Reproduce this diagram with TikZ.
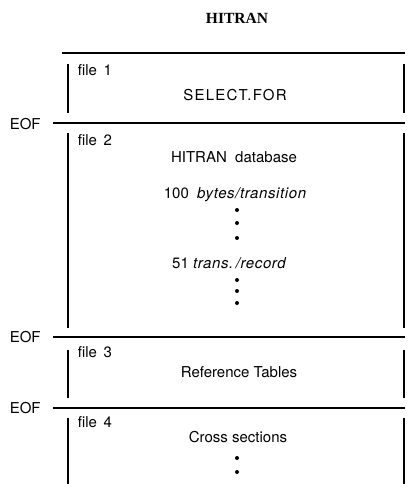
\documentclass[tikz,border=0pt]{standalone}
\usepackage{fontspec}
\setmainfont{Liberation Serif}
\setsansfont{TeX Gyre Heros}
\tikzset{
  lbl/.style={font=\sffamily\fontsize{15}{18}\selectfont,inner sep=0pt,anchor=base},
  filelbl/.style={lbl,anchor=base west},
  dotmark/.style={fill=black}
}
\begin{document}
\begin{tikzpicture}[x=1pt,y=-1pt,line width=1.5pt]
\useasboundingbox (0,0) rectangle (407,490);
% Title
\node[font=\bfseries\fontsize{15.5}{18}\selectfont,inner sep=0pt,anchor=base] (title) at (237,23) {HITRAN};
% Top line
\draw (62,53) -- (405,53);
% The four files: bars left and right, label
\foreach \n/\t/\b/\l in {1/64/113/75,2/133/328/145,3/350/398/357,4/418/484/427}{
  \draw (68,\t) -- (68,\b);
  \draw (404,\t) -- (404,\b);
  \node[filelbl] (file\n) at (77,\l) {file\ \,\n};
}
% EOF separators
\foreach \e/\y/\s in {a/123/129,b/337/342,c/408/413}{
  \node[lbl,anchor=base west] (eof\e) at (9,\s) {EOF};
  \draw (53,\y) -- (405,\y);
}
% Contents of the files
\node[lbl] (select) at (235,100) {\addfontfeature{LetterSpace=8}SELECT.FOR};
\node[lbl] (hitran) at (234,162) {HITRAN~ database};
\node[lbl] (bytes) at (235,198) {100~ {\itshape\addfontfeature{LetterSpace=4}bytes/transition}};
\node[lbl] (trans) at (229,268) {51 {\itshape\addfontfeature{LetterSpace=4}trans.\,/record}};
\node[lbl] (reftab) at (239,377) {Reference Tables};
\node[lbl] (cross) at (238,442) {Cross sections};
% Dots
\foreach \y in {210,223,238,280,291,303,458,472}
  \fill[dotmark] (237,\y) circle (2pt);
\end{tikzpicture}
\end{document}
